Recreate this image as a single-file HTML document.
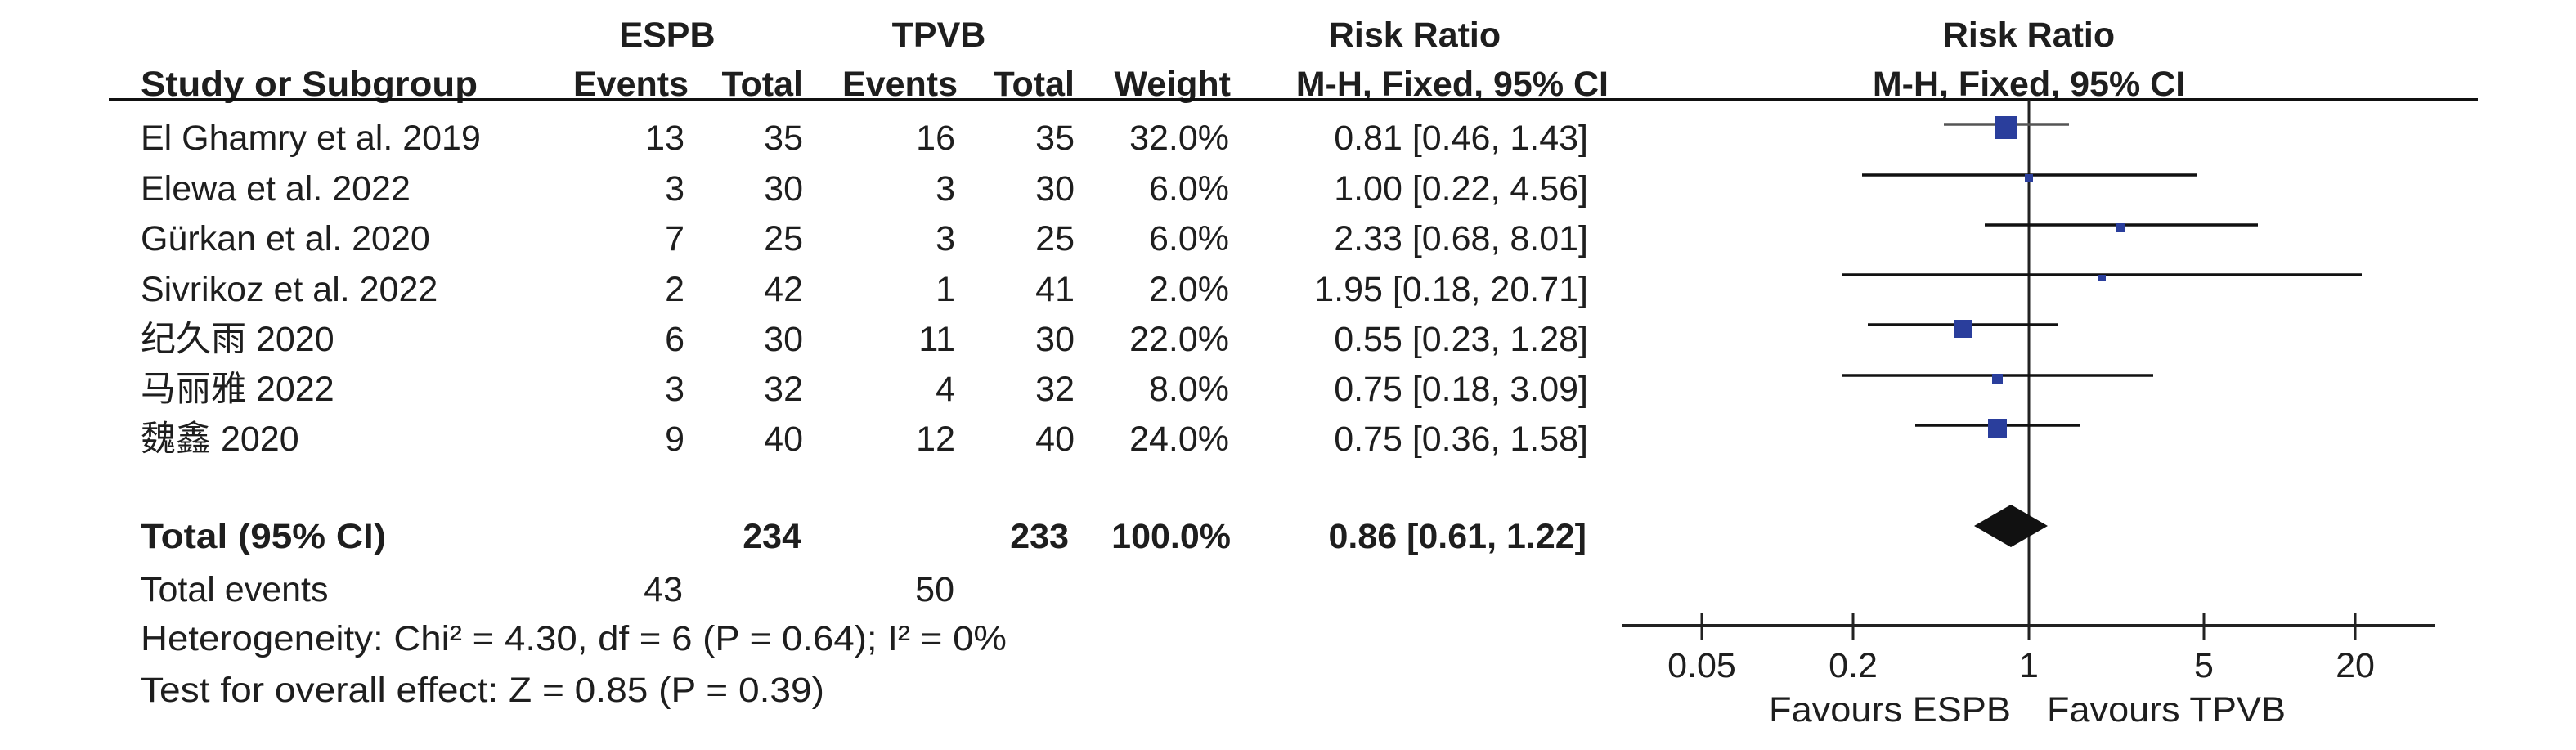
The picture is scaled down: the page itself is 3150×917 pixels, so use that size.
<!DOCTYPE html>
<html><head><meta charset="utf-8"><style>
html,body{margin:0;padding:0;background:#fff;}
svg{display:block;}
text{font-family:"Liberation Sans","Noto Sans CJK SC",sans-serif;font-size:43px;fill:#1e1e1e;}
.b{font-weight:bold;}
.r{text-anchor:end;}
.m{text-anchor:middle;}
</style></head><body>
<svg width="3150" height="917" viewBox="0 0 3150 917" xmlns="http://www.w3.org/2000/svg">
<!-- headers -->
<text class="b m" x="816" y="57">ESPB</text>
<text class="b m" x="1148" y="57">TPVB</text>
<text class="b m" x="1730" y="57">Risk Ratio</text>
<text class="b m" x="2481" y="57">Risk Ratio</text>
<text class="b" x="172" y="117" textLength="412" lengthAdjust="spacingAndGlyphs">Study or Subgroup</text>
<text class="b r" x="842" y="117">Events</text>
<text class="b r" x="982" y="117">Total</text>
<text class="b r" x="1171" y="117">Events</text>
<text class="b r" x="1314" y="117">Total</text>
<text class="b r" x="1505" y="117">Weight</text>
<text class="b r" x="1967" y="117">M-H, Fixed, 95% CI</text>
<text class="b m" x="2481" y="117">M-H, Fixed, 95% CI</text>
<line x1="133" y1="122" x2="3030" y2="122" stroke="#111" stroke-width="4"/>

<!-- rows -->
<g>
<text x="172" y="183">El Ghamry et al. 2019</text>
<text class="r" x="837" y="183">13</text><text class="r" x="982" y="183">35</text>
<text class="r" x="1168" y="183">16</text><text class="r" x="1314" y="183">35</text>
<text class="r" x="1503" y="183">32.0%</text><text class="r" x="1942" y="183">0.81 [0.46, 1.43]</text>

<text x="172" y="245">Elewa et al. 2022</text>
<text class="r" x="837" y="245">3</text><text class="r" x="982" y="245">30</text>
<text class="r" x="1168" y="245">3</text><text class="r" x="1314" y="245">30</text>
<text class="r" x="1503" y="245">6.0%</text><text class="r" x="1942" y="245">1.00 [0.22, 4.56]</text>

<text x="172" y="306">Gürkan et al. 2020</text>
<text class="r" x="837" y="306">7</text><text class="r" x="982" y="306">25</text>
<text class="r" x="1168" y="306">3</text><text class="r" x="1314" y="306">25</text>
<text class="r" x="1503" y="306">6.0%</text><text class="r" x="1942" y="306">2.33 [0.68, 8.01]</text>

<text x="172" y="368">Sivrikoz et al. 2022</text>
<text class="r" x="837" y="368">2</text><text class="r" x="982" y="368">42</text>
<text class="r" x="1168" y="368">1</text><text class="r" x="1314" y="368">41</text>
<text class="r" x="1503" y="368">2.0%</text><text class="r" x="1942" y="368">1.95 [0.18, 20.71]</text>

<text x="172" y="429">纪久雨 2020</text>
<text class="r" x="837" y="429">6</text><text class="r" x="982" y="429">30</text>
<text class="r" x="1168" y="429">11</text><text class="r" x="1314" y="429">30</text>
<text class="r" x="1503" y="429">22.0%</text><text class="r" x="1942" y="429">0.55 [0.23, 1.28]</text>

<text x="172" y="490">马丽雅 2022</text>
<text class="r" x="837" y="490">3</text><text class="r" x="982" y="490">32</text>
<text class="r" x="1168" y="490">4</text><text class="r" x="1314" y="490">32</text>
<text class="r" x="1503" y="490">8.0%</text><text class="r" x="1942" y="490">0.75 [0.18, 3.09]</text>

<text x="172" y="551">魏鑫 2020</text>
<text class="r" x="837" y="551">9</text><text class="r" x="982" y="551">40</text>
<text class="r" x="1168" y="551">12</text><text class="r" x="1314" y="551">40</text>
<text class="r" x="1503" y="551">24.0%</text><text class="r" x="1942" y="551">0.75 [0.36, 1.58]</text>
</g>

<!-- totals -->
<text class="b" x="172" y="670" textLength="300" lengthAdjust="spacingAndGlyphs">Total (95% CI)</text>
<text class="b r" x="980" y="670">234</text>
<text class="b r" x="1307" y="670">233</text>
<text class="b r" x="1505" y="670">100.0%</text>
<text class="b r" x="1940" y="670">0.86 [0.61, 1.22]</text>
<text x="172" y="735">Total events</text>
<text class="r" x="835" y="735">43</text>
<text class="r" x="1167" y="735">50</text>
<text x="172" y="795" textLength="1059" lengthAdjust="spacingAndGlyphs">Heterogeneity: Chi² = 4.30, df = 6 (P = 0.64); I² = 0%</text>
<text x="172" y="858" textLength="836" lengthAdjust="spacingAndGlyphs">Test for overall effect: Z = 0.85 (P = 0.39)</text>

<!-- plot -->
<line x1="2481" y1="122" x2="2481" y2="767" stroke="#222" stroke-width="3"/>
<g stroke="#111" stroke-width="3.5">
<line x1="2377" y1="152" x2="2530" y2="152" stroke="#555"/>
<line x1="2277" y1="214" x2="2686" y2="214"/>
<line x1="2427" y1="275" x2="2761" y2="275"/>
<line x1="2253" y1="336" x2="2888" y2="336"/>
<line x1="2284" y1="397" x2="2516" y2="397"/>
<line x1="2252" y1="459" x2="2633" y2="459"/>
<line x1="2342" y1="520" x2="2543" y2="520"/>
</g>
<g fill="#2a3e9c">
<rect x="2439" y="142" width="28" height="28"/>
<rect x="2476" y="213" width="10" height="10"/>
<rect x="2588" y="273" width="11" height="11"/>
<rect x="2566" y="336" width="9" height="8"/>
<rect x="2389" y="391" width="22" height="22"/>
<rect x="2436" y="457" width="13" height="12"/>
<rect x="2431" y="512" width="23" height="23"/>
</g>
<polygon points="2414,643 2459,617 2504,643 2459,669" fill="#111"/>

<!-- axis -->
<line x1="1983" y1="765" x2="2978" y2="765" stroke="#222" stroke-width="4"/>
<g stroke="#222" stroke-width="3">
<line x1="2081" y1="749" x2="2081" y2="783"/>
<line x1="2266" y1="749" x2="2266" y2="783"/>
<line x1="2481" y1="749" x2="2481" y2="783"/>
<line x1="2695" y1="749" x2="2695" y2="783"/>
<line x1="2880" y1="749" x2="2880" y2="783"/>
</g>
<text class="m" x="2081" y="828">0.05</text>
<text class="m" x="2266" y="828">0.2</text>
<text class="m" x="2481" y="828">1</text>
<text class="m" x="2695" y="828">5</text>
<text class="m" x="2880" y="828">20</text>
<text x="2163" y="882" textLength="296" lengthAdjust="spacingAndGlyphs">Favours ESPB</text>
<text x="2503" y="882" textLength="292" lengthAdjust="spacingAndGlyphs">Favours TPVB</text>
</svg>
</body></html>
